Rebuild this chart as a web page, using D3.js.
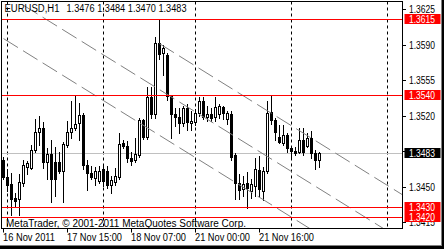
<!DOCTYPE html>
<html><head><meta charset="utf-8">
<script src="https://cdn.jsdelivr.net/npm/d3@7"></script>
<style>body{margin:0;background:#fff;overflow:hidden}svg{display:block}text{font-family:"Liberation Sans",Arial,sans-serif}</style>
</head><body><svg id="c" width="444" height="249"></svg>
<script>
// ---- data ----
const symbol = "EURUSD,H1";
const lastBarText = "1.3476 1.3484 1.3470 1.3483";
const copyright = "MetaTrader, \u00A9 2001-2011 MetaQuotes Software Corp.";
const times = [
"2011-11-16 23:00",
"2011-11-17 00:00","2011-11-17 01:00","2011-11-17 02:00","2011-11-17 03:00","2011-11-17 04:00","2011-11-17 05:00",
"2011-11-17 06:00","2011-11-17 07:00","2011-11-17 08:00","2011-11-17 09:00","2011-11-17 10:00","2011-11-17 11:00",
"2011-11-17 12:00","2011-11-17 13:00","2011-11-17 14:00","2011-11-17 15:00","2011-11-17 16:00","2011-11-17 17:00",
"2011-11-17 18:00","2011-11-17 19:00","2011-11-17 20:00","2011-11-17 21:00","2011-11-17 22:00","2011-11-17 23:00",
"2011-11-18 00:00","2011-11-18 01:00","2011-11-18 02:00","2011-11-18 03:00","2011-11-18 04:00","2011-11-18 05:00",
"2011-11-18 06:00","2011-11-18 07:00","2011-11-18 08:00","2011-11-18 09:00","2011-11-18 10:00","2011-11-18 11:00",
"2011-11-18 12:00","2011-11-18 13:00","2011-11-18 14:00","2011-11-18 15:00","2011-11-18 16:00","2011-11-18 17:00",
"2011-11-18 18:00","2011-11-18 19:00","2011-11-18 20:00","2011-11-18 21:00","2011-11-18 22:00",
"2011-11-21 00:00","2011-11-21 01:00","2011-11-21 02:00","2011-11-21 03:00","2011-11-21 04:00","2011-11-21 05:00",
"2011-11-21 06:00","2011-11-21 07:00","2011-11-21 08:00","2011-11-21 09:00","2011-11-21 10:00","2011-11-21 11:00",
"2011-11-21 12:00","2011-11-21 13:00","2011-11-21 14:00","2011-11-21 15:00","2011-11-21 16:00","2011-11-21 17:00",
"2011-11-21 18:00","2011-11-21 19:00","2011-11-21 20:00","2011-11-21 21:00","2011-11-21 22:00","2011-11-21 23:00",
"2011-11-22 00:00","2011-11-22 01:00","2011-11-22 02:00","2011-11-22 03:00","2011-11-22 04:00","2011-11-22 05:00",
"2011-11-22 06:00","2011-11-22 07:00"];
const open = [1.3476,
1.3460,1.3453,1.3439,1.3438,1.3454,1.3470,1.3469,1.3486,1.3504,1.3508,1.3474,1.3482,
1.3474,1.3474,1.3466,1.3491,1.3504,1.3508,1.3513,1.3521,1.3472,1.3464,1.3459,1.3456,
1.3468,1.3466,1.3452,1.3455,1.3460,1.3493,1.3490,1.3478,1.3476,1.3481,1.3516,1.3499,
1.3538,1.3522,1.3592,1.3582,1.3580,1.3539,1.3522,1.3519,1.3513,1.3528,1.3513,
1.3514,1.3523,1.3535,1.3519,1.3522,1.3519,1.3522,1.3529,1.3517,1.3522,1.3481,1.3454,
1.3448,1.3454,1.3446,1.3451,1.3467,1.3446,1.3466,1.3524,1.3516,1.3499,1.3493,1.3501,
1.3488,1.3485,1.3484,1.3496,1.3490,1.3498,1.3483,1.3476];
const high = [1.3479,
1.3468,1.3464,1.3444,1.3463,1.3476,1.3475,1.3491,1.3517,1.3520,1.3514,1.3488,1.3496,
1.3489,1.3484,1.3494,1.3515,1.3535,1.3540,1.3533,1.3523,1.3476,1.3471,1.3470,1.3471,
1.3471,1.3471,1.3461,1.3469,1.3503,1.3496,1.3495,1.3484,1.3498,1.3518,1.3517,1.3548,
1.3548,1.3598,1.3615,1.3590,1.3582,1.3540,1.3528,1.3528,1.3530,1.3532,1.3525,
1.3527,1.3538,1.3538,1.3530,1.3528,1.3538,1.3532,1.3530,1.3525,1.3525,1.3483,1.3463,
1.3461,1.3465,1.3458,1.3478,1.3480,1.3470,1.3535,1.3540,1.3518,1.3511,1.3511,1.3503,
1.3490,1.3489,1.3508,1.3508,1.3503,1.3505,1.3486,1.3484];
const low = [1.3458,
1.3446,1.3422,1.3430,1.3422,1.3451,1.3463,1.3468,1.3484,1.3491,1.3469,1.3458,1.3435,
1.3441,1.3464,1.3435,1.3489,1.3498,1.3506,1.3496,1.3468,1.3447,1.3458,1.3452,1.3454,
1.3451,1.3449,1.3444,1.3452,1.3458,1.3488,1.3474,1.3472,1.3474,1.3479,1.3497,1.3497,
1.3518,1.3518,1.3576,1.3560,1.3536,1.3498,1.3510,1.3503,1.3510,1.3506,1.3506,
1.3511,1.3520,1.3517,1.3515,1.3515,1.3515,1.3518,1.3517,1.3512,1.3476,1.3438,1.3438,
1.3441,1.3429,1.3439,1.3441,1.3441,1.3437,1.3464,1.3512,1.3496,1.3493,1.3491,1.3484,
1.3479,1.3481,1.3483,1.3481,1.3489,1.3478,1.3468,1.3470];
const close = [1.3460,
1.3452,1.3438,1.3436,1.3455,1.3472,1.3473,1.3486,1.3504,1.3508,1.3474,1.3482,1.3458,
1.3458,1.3466,1.3492,1.3504,1.3508,1.3512,1.3521,1.3472,1.3464,1.3460,1.3466,1.3466,
1.3456,1.3452,1.3457,1.3461,1.3492,1.3490,1.3478,1.3475,1.3482,1.3516,1.3499,1.3538,
1.3522,1.3592,1.3581,1.3587,1.3539,1.3522,1.3519,1.3513,1.3528,1.3514,1.3515,
1.3523,1.3535,1.3519,1.3522,1.3518,1.3529,1.3530,1.3523,1.3523,1.3479,1.3454,1.3447,
1.3453,1.3449,1.3453,1.3468,1.3448,1.3466,1.3523,1.3516,1.3504,1.3494,1.3501,1.3488,
1.3485,1.3483,1.3496,1.3484,1.3498,1.3483,1.3476,1.3483];
const priceTicks = [1.3625,1.3590,1.3555,1.3520,1.3485,1.3450,1.3415];
const timeTickTimes = ["2011-11-16 23:00","2011-11-17 15:00","2011-11-18 07:00","2011-11-21 00:00","2011-11-21 16:00"];
const timeTickLabels = ["16 Nov 2011","17 Nov 15:00","18 Nov 07:00","21 Nov 00:00","21 Nov 16:00"];
const daySeparators = ["2011-11-17 00:00","2011-11-18 00:00","2011-11-21 00:00","2011-11-22 00:00","2011-11-23 00:00"];
const levelPrices = [1.3615,1.3540,1.3430,1.3420];
const bidPrice = 1.3483;
// channel rays: start point and a second anchor point, extended to the right edge
const channelStartTimes = ["2011-11-16 23:00","2011-11-16 23:00","2011-11-18 14:00"];
const channelStartPrices = [1.3641,1.3596,1.3591];
const channelEndTimes = ["2011-11-22 07:00","2011-11-22 07:00","2011-11-22 07:00"];
const channelEndPrices = [1.3448,1.3403,1.3493];

// ---- layout ----
const svg = d3.select("#c");
const P = {l:1.5, t:1.5, r:402.5, b:228.5};
const parse = d3.timeParse("%Y-%m-%d %H:%M");
const lastIdx = times.length - 1;
function idxOf(t){ const k = times.indexOf(t); if (k >= 0) return k;
  return lastIdx + Math.round((parse(t) - parse(times[lastIdx])) / 36e5); }
const x = d3.scaleLinear().domain([0, lastIdx]).range([3.5, 3.5 + 4*lastIdx]);
const y = d3.scaleLinear().domain([1.3420, 1.3615]).range([217.3, 19.3]);
const py = v => Math.round(y(v)) + 0.5;

svg.append("rect").attr("width",444).attr("height",249).attr("fill","#fff");
svg.append("defs").append("clipPath").attr("id","clip").append("rect")
  .attr("x",P.l).attr("y",P.t).attr("width",P.r-P.l).attr("height",P.b-P.t);
const g = svg.append("g").attr("clip-path","url(#clip)");

// day separators
g.selectAll(".sep").data(daySeparators).join("line")
  .attr("x1",d=>x(idxOf(d))).attr("x2",d=>x(idxOf(d)))
  .attr("y1",P.t).attr("y2",P.b).attr("stroke","#000").attr("stroke-width",1)
  .attr("stroke-dasharray","3,3");

// bid line
g.append("line").attr("x1",P.l).attr("x2",P.r).attr("y1",py(bidPrice)).attr("y2",py(bidPrice))
  .attr("stroke","#c0c0c0").attr("stroke-width",1);

// candles
const bars = d3.range(times.length).map(i=>({i,o:open[i],h:high[i],l:low[i],c:close[i]}));
const cg = g.append("g");
cg.selectAll(".wick").data(bars).join("line")
  .attr("x1",d=>x(d.i)).attr("x2",d=>x(d.i))
  .attr("y1",d=>Math.round(y(d.h))).attr("y2",d=>Math.round(y(d.l))+1)
  .attr("stroke","#000").attr("stroke-width",1);
bars.forEach(d=>{
  const yt = Math.round(y(Math.max(d.o,d.c))), yb = Math.round(y(Math.min(d.o,d.c)));
  const cx = x(d.i);
  if (d.c < d.o || yb - yt < 2) {
    cg.append("rect").attr("x",cx-1.5).attr("y",yt).attr("width",3).attr("height",yb-yt+1).attr("fill","#000");
  } else {
    cg.append("rect").attr("x",cx-1).attr("y",yt+0.5).attr("width",2).attr("height",yb-yt)
      .attr("fill","#fff").attr("stroke","#000").attr("stroke-width",1);
  }
});

// channel rays
channelStartTimes.forEach((t,k)=>{
  const i0 = idxOf(t), i1 = idxOf(channelEndTimes[k]);
  const p0 = channelStartPrices[k], p1 = channelEndPrices[k];
  const slope = (p1-p0)/(i1-i0);
  const iEnd = x.invert(P.r + 2);
  g.append("line").attr("x1",x(i0)).attr("y1",y(p0))
    .attr("x2",x(iEnd)).attr("y2",y(p0 + slope*(iEnd-i0)))
    .attr("stroke","#808080").attr("stroke-width",1).attr("stroke-dasharray","17,6");
});

// level lines
g.selectAll(".lvl").data(levelPrices).join("line")
  .attr("x1",P.l).attr("x2",P.r).attr("y1",d=>py(d)).attr("y2",d=>py(d))
  .attr("stroke","#ff0000").attr("stroke-width",1);

// frame
svg.append("rect").attr("x",P.l).attr("y",P.t).attr("width",P.r-P.l).attr("height",P.b-P.t)
  .attr("fill","none").attr("stroke","#000").attr("stroke-width",1);

// texts in chart
function txt(s, xx, yy, w, col){
  return svg.append("text").attr("x",xx).attr("y",yy).attr("font-size","10px")
    .attr("fill",col||"#000").attr("textLength",w).attr("lengthAdjust","spacingAndGlyphs").text(s);
}
txt(symbol, 4.5, 12, 55);
txt(lastBarText, 66.5, 12, 120);
txt(copyright, 6, 226.5, 240);

// price axis (the tick label at the bid price is covered by the bid label, so only its tick is drawn)
svg.selectAll(".pt").data(priceTicks).join("line")
  .attr("x1",P.r).attr("x2",P.r+3.5).attr("y1",d=>py(d)).attr("y2",d=>py(d))
  .attr("stroke","#000");
priceTicks.filter(p=>Math.abs(y(p)-y(bidPrice))>6).forEach(p=>txt(p.toFixed(4), 409, Math.round(y(p))+4, 26));
levelPrices.forEach(p=>{
  const yy = Math.round(y(p));
  svg.append("rect").attr("x",404.5).attr("y",yy-5).attr("width",36).attr("height",10).attr("fill","#ff0000");
  txt(p.toFixed(4), 409, yy+4, 26, "#fff");
});
{
  const yy = Math.round(y(bidPrice));
  svg.append("rect").attr("x",404.5).attr("y",yy-5).attr("width",36).attr("height",10).attr("fill","#000");
  txt(bidPrice.toFixed(4), 409, yy+4, 26, "#fff");
}

// time axis
timeTickTimes.forEach((t,k)=>{
  const xx = x(idxOf(t));
  svg.append("line").attr("x1",xx).attr("x2",xx).attr("y1",P.b).attr("y2",P.b+4).attr("stroke","#000");
  txt(timeTickLabels[k], xx-0.5, 241, k===0?52:55);
});

// window border
svg.append("rect").attr("x",441).attr("y",0).attr("width",1).attr("height",246).attr("fill","#808080");
svg.append("rect").attr("x",442).attr("y",0).attr("width",2).attr("height",249).attr("fill","#000");
svg.append("rect").attr("x",0).attr("y",245).attr("width",442).attr("height",1).attr("fill","#808080");
svg.append("rect").attr("x",0).attr("y",246).attr("width",444).attr("height",3).attr("fill","#000");
</script></body></html>
